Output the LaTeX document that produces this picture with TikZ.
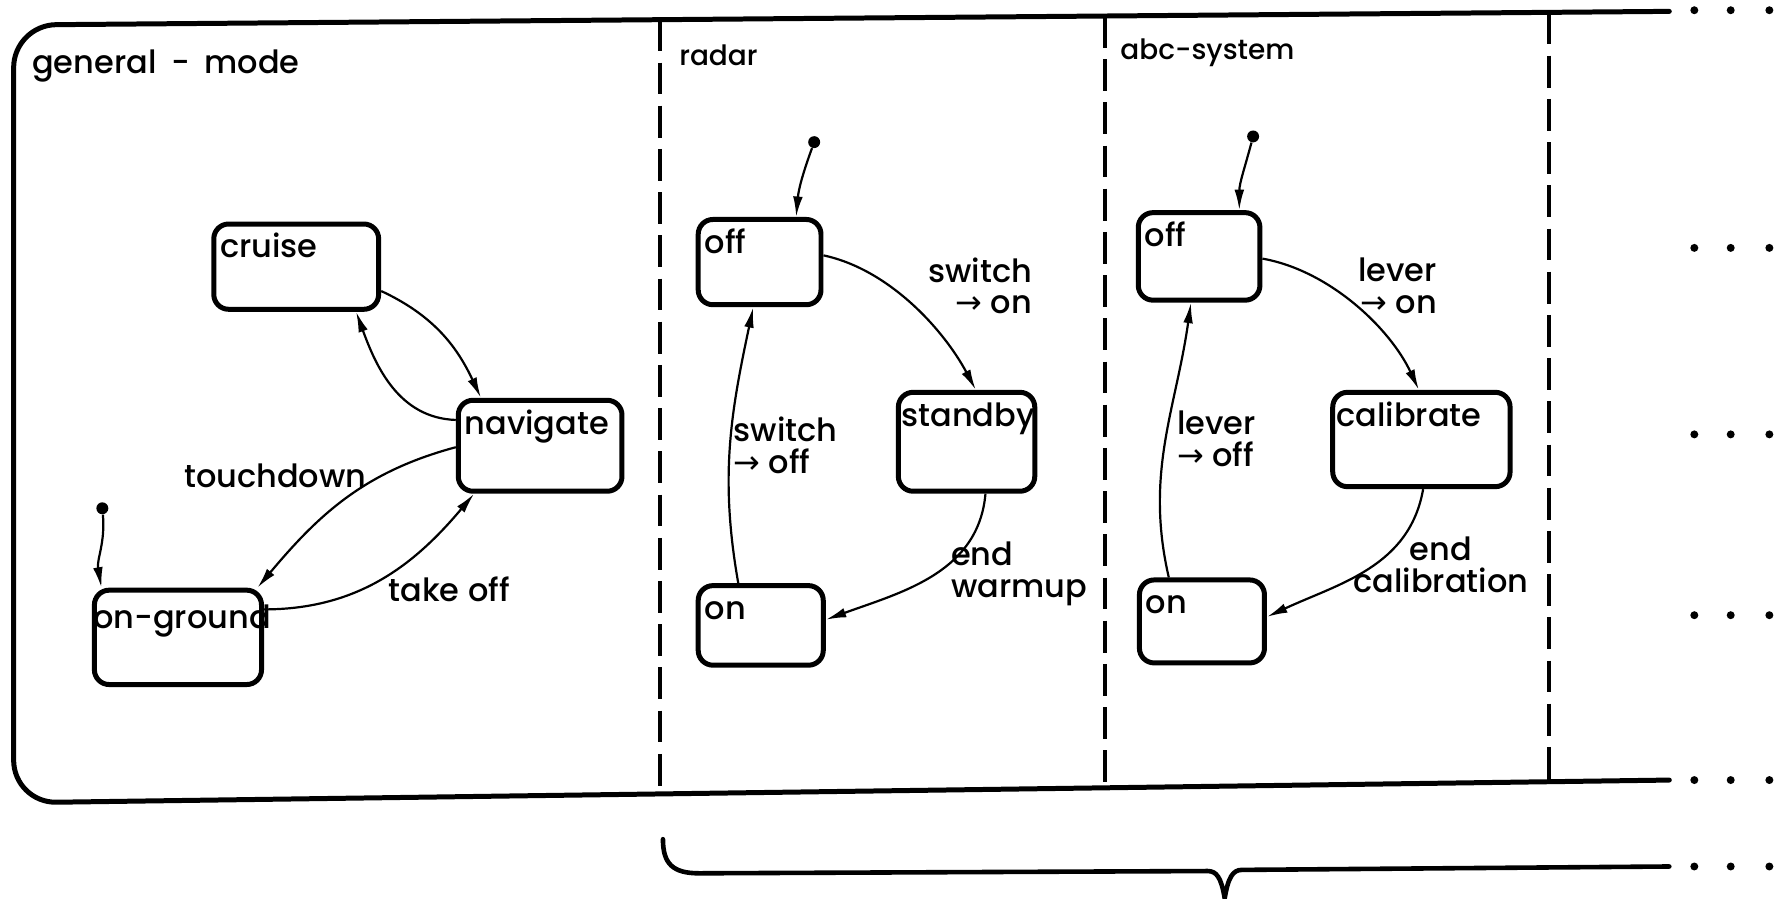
\documentclass[tikz,border=0pt]{standalone}
\usepackage{fontspec}
\setmainfont{Poppins}[UprightFont=* Medium]
\newfontfamily\arrowfont{DejaVu Sans}
\usetikzlibrary{arrows.meta}
\newcommand{\rarr}{{\arrowfont →}}
\begin{document}
\begin{tikzpicture}[x=0.02cm, y=0.02cm,
  txt/.style={font=\fontsize{16}{16}\selectfont, inner sep=0pt},
  small/.style={font=\fontsize{14}{15}\selectfont, inner sep=0pt},
  statebox/.style={draw, line width=2.5pt, rounded corners=0.26cm, inner sep=0pt},
  lbl/.style={txt, anchor=base west, xshift=0.15cm, yshift=-0.64cm},
  trans/.style={line width=1.1pt, -{Latex[length=0.36cm,width=0.17cm]}},
  initdot/.style={circle, fill, inner sep=0pt, minimum size=0.21cm},
  dotmark/.style={circle, fill, inner sep=0pt, minimum size=0.14cm},
  frame/.style={line width=2.5pt, line cap=round},
  sep/.style={line width=2pt, dash pattern=on 0.56cm off 0.2cm},
  brace/.style={line width=2.3pt, line cap=round, line join=round}]
\useasboundingbox (0,0) rectangle (1568,-790);

% outer frame
\draw[frame, rounded corners=0.75cm] (1468,-10) -- (12,-22) -- (12,-706) -- (1468,-686);
% separators
\draw[sep] (580,-17) -- (580,-698);
\draw[sep] (972,-14) -- (972,-693);
\draw[sep] (1362,-11) -- (1362,-688);
% brace
\draw[brace] (583,-738) .. controls (583,-760) and (592,-768) .. (615,-768)
  -- (1062,-766) .. controls (1070,-766) and (1074,-772) .. (1077,-790)
  .. controls (1080,-772) and (1084,-765) .. (1092,-765) -- (1468,-762);
% continuation dots
\foreach \yy [count=\i] in {9,218,382,541,686,762}
  \foreach \xx [count=\j] in {1490,1522,1556}
    \node[dotmark] (d\i\j) at (\xx,-\yy) {};

% section titles
\node[txt, anchor=base west] (tgen) at (28,-65) {general\hspace{0.2em} - \hspace{0.2em}mode};
\node[small, anchor=base west] (trad) at (597,-58) {radar};
\node[small, anchor=base west] (tabc) at (985,-52) {abc-system};

% general-mode states
\node[statebox, minimum width=2.9cm, minimum height=1.5cm,
  label={[lbl]north west:cruise}] (cruise) at (260.5,-234.5) {};
\node[statebox, minimum width=2.88cm, minimum height=1.6cm,
  label={[lbl]north west:navigate}] (navigate) at (475,-392) {};
\node[statebox, minimum width=2.94cm, minimum height=1.66cm,
  label={[lbl, xshift=-0.13cm, yshift=-0.08cm]north west:on-ground}] (onground) at (156.5,-560.5) {};
\node[initdot] (ig) at (90,-447) {};

\draw[trans] (ig) to[out=-85, in=100] (onground.147);
\draw[trans] (cruise.-16) to[out=-25, in=115] (navigate.141);
\draw[trans] (navigate.163) to[out=178, in=-70] (cruise.-37);
\draw[trans] (navigate.181) to[out=195, in=50] (onground.32);
\draw[trans] (onground.18) to[out=0, in=230] (navigate.-144);
\node[txt] (ltouch) at (242,-418) {touchdown};
\node[txt] (ltake) at (395,-518) {take off};

% radar states
\node[statebox, minimum width=2.16cm, minimum height=1.5cm,
  label={[lbl]north west:off}] (roff) at (668,-230.5) {};
\node[statebox, minimum width=2.4cm, minimum height=1.74cm,
  label={[lbl, xshift=-0.06cm]north west:standby}] (standby) at (850,-388.5) {};
\node[statebox, minimum width=2.2cm, minimum height=1.4cm,
  label={[lbl]north west:on}] (ron) at (669,-550) {};
\node[initdot] (ir) at (716,-125) {};

\draw[trans] (ir) to[out=-110, in=85] (roff.51);
\draw[trans] (roff.6) to[out=-12, in=118, looseness=0.85] (standby.80);
\draw[trans] (standby.-70) to[out=-95, in=20] (ron.5);
\draw[trans] (ron.118) to[out=100, in=-102] (roff.-98);
\node[txt, align=right, anchor=north east] (lrson) at (908,-226) {switch\\\rarr{} on};
\node[txt, align=left, anchor=west] (lrsoff) at (645,-392) {switch\\\rarr{} off};
\node[txt, align=left, anchor=north west] (lrend) at (836,-476) {end\\warmup};

% abc-system states
\node[statebox, minimum width=2.14cm, minimum height=1.54cm,
  label={[lbl]north west:off}] (aoff) at (1054.5,-225.5) {};
\node[statebox, minimum width=3.12cm, minimum height=1.66cm,
  label={[lbl, xshift=-0.05cm]north west:calibrate}] (calib) at (1250,-386.5) {};
\node[statebox, minimum width=2.2cm, minimum height=1.46cm,
  label={[lbl]north west:on}] (aon) at (1057,-546.5) {};
\node[initdot] (ia) at (1102,-120) {};

\draw[trans] (ia) to[out=-105, in=90] (aoff.49);
\draw[trans] (aoff.-2) to[out=-10, in=115, looseness=0.85] (calib.93);
\draw[trans] (calib.-88) to[out=-100, in=25] (aon.4);
\draw[trans] (aon.127) to[out=103, in=-98] (aoff.-100);
\node[txt, align=right, anchor=north east] (lalon) at (1264,-226) {lever\\\rarr{} on};
\node[txt, align=left, anchor=west] (laloff) at (1035,-386) {lever\\\rarr{} off};
\node[txt, align=center] (laend) at (1267,-497) {end\\calibration};
\end{tikzpicture}
\end{document}
